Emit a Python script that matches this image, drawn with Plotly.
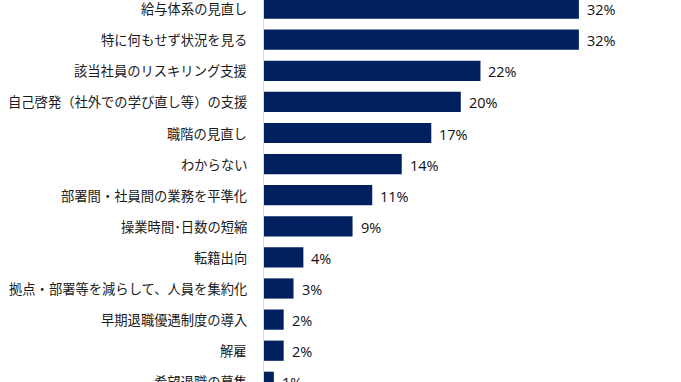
import plotly.graph_objects as go

categories = [
    "給与体系の見直し",
    "特に何もせず状況を見る",
    "該当社員のリスキリング支援",
    "自己啓発（社外での学び直し等）の支援",
    "職階の見直し",
    "わからない",
    "部署間・社員間の業務を平準化",
    "操業時間･日数の短縮",
    "転籍出向",
    "拠点・部署等を減らして、人員を集約化",
    "早期退職優遇制度の導入",
    "解雇",
    "希望退職の募集",
]
values = [32, 32, 22, 20, 17, 14, 11, 9, 4, 3, 2, 2, 1]
value_labels = [f"{v}%" for v in values]

W, H = 681, 382
x0_px = 264
px_per_pct = 9.84
pitch = 31.1
first_center = 8.6

positions = list(range(len(categories)))

fig = go.Figure()
fig.add_trace(
    go.Bar(
        x=values,
        y=positions,
        orientation="h",
        marker=dict(color="#002060", line=dict(width=0)),
        width=0.65,
        hoverinfo="skip",
    )
)

for pos, v, lab in zip(positions, values, value_labels):
    fig.add_annotation(
        x=v, y=pos, xref="x", yref="y",
        text=lab, showarrow=False,
        xanchor="left", yanchor="middle",
        xshift=6, yshift=-1,
        font=dict(family="Open Sans, sans-serif", size=14.5, color="#111111"),
    )

for pos, cat in zip(positions, categories):
    fig.add_annotation(
        x=0, y=pos, xref="x", yref="y",
        text=cat, showarrow=False,
        xanchor="right", yanchor="middle",
        xshift=-15,
        font=dict(family="Noto Sans CJK JP", size=13.3, color="#1a1a1a"),
    )

x_max = (W - x0_px) / px_per_pct
y_top = (0 - first_center) / pitch
y_bottom = (H - first_center) / pitch

fig.update_layout(
    width=W,
    height=H,
    margin=dict(l=0, r=0, t=0, b=0),
    paper_bgcolor="white",
    plot_bgcolor="white",
    showlegend=False,
    xaxis=dict(
        domain=[x0_px / W, 1],
        range=[0, x_max],
        visible=False,
        fixedrange=True,
    ),
    yaxis=dict(
        range=[y_bottom, y_top],
        showticklabels=False,
        ticks="",
        showgrid=False,
        zeroline=False,
        showline=True,
        linecolor="#d9d9d9",
        linewidth=1,
        automargin=False,
        fixedrange=True,
    ),
)

fig.write_html(
    "out.html",
    config={"displayModeBar": False},
    post_script="document.body.style.margin='0';document.body.style.overflow='hidden';",
)
